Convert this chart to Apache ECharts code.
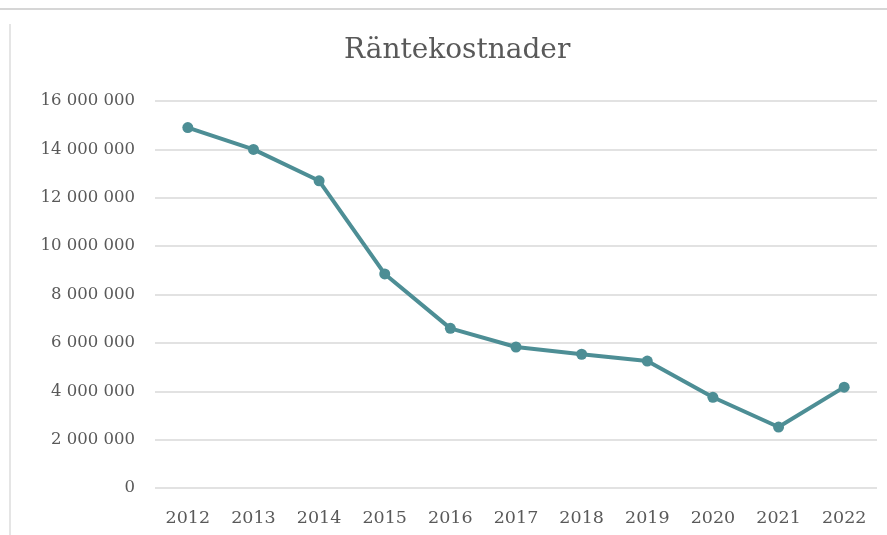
<!DOCTYPE html>
<html>
<head>
<meta charset="utf-8">
<script src="https://cdn.jsdelivr.net/npm/echarts@6/dist/echarts.min.js"></script>
<style>html,body{margin:0;padding:0;background:#fff}#c{width:887px;height:535px}</style>
</head>
<body>
<div id="c"></div>
<script>
var years = ['2012','2013','2014','2015','2016','2017','2018','2019','2020','2021','2022'];
var rantekostnader = [14900000, 14000000, 12700000, 8850000, 6600000, 5830000, 5530000, 5250000, 3750000, 2520000, 4170000];
var yTicks = [0, 2000000, 4000000, 6000000, 8000000, 10000000, 12000000, 14000000, 16000000];

function fmt(v){ return String(v).replace(/\B(?=(\d{3})+(?!\d))/g, ' '); }

var chart = echarts.init(document.getElementById('c'), null, {renderer:'canvas'});
chart.setOption({
  animation: false,
  backgroundColor: '#ffffff',
  title: {
    text: 'Räntekostnader',
    left: 339, top: 32,
    textStyle: {fontFamily: 'DejaVu Serif', fontSize: 28, fontWeight: 'normal', color: '#595959'}
  },
  graphic: [
    {type:'line', shape:{x1:0,y1:9,x2:887,y2:9}, style:{stroke:'#d6d6d6', lineWidth:2}},
    {type:'line', shape:{x1:10,y1:24,x2:10,y2:535}, style:{stroke:'#dcdcdc', lineWidth:1.5}}
  ],
  grid: {left: 155, right: 10, top: 101, bottom: 47},
  xAxis: {
    type: 'category',
    data: years,
    boundaryGap: true,
    axisLine: {show: false},
    axisTick: {show: false},
    axisLabel: {fontFamily: 'DejaVu Serif', fontSize: 17.5, color: '#595959', margin: 21}
  },
  yAxis: {
    type: 'value',
    min: yTicks[0], max: yTicks[yTicks.length-1], interval: 2000000,
    axisLine: {show: false},
    axisTick: {show: false},
    splitLine: {lineStyle: {color: '#d9d9d9', width: 1.5}},
    axisLabel: {fontFamily: 'DejaVu Serif', fontSize: 16.5, color: '#595959', margin: 20, formatter: fmt}
  },
  series: [{
    type: 'line',
    data: rantekostnader,
    lineStyle: {color: '#4d8e95', width: 4},
    itemStyle: {color: '#4d8e95'},
    symbol: 'circle',
    symbolSize: 11
  }]
});
</script>
</body>
</html>
